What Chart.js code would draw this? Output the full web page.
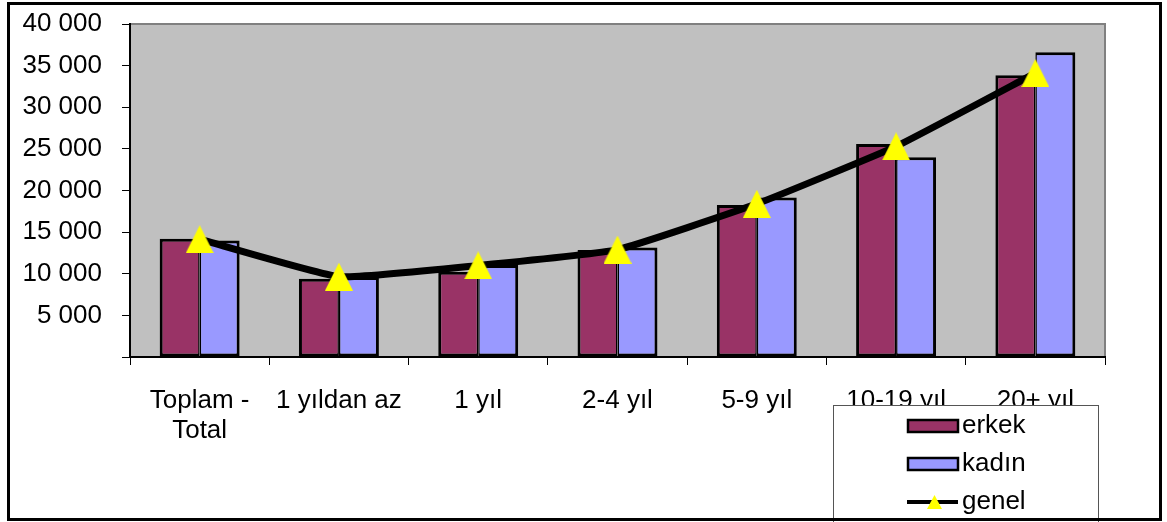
<!DOCTYPE html>
<html>
<head>
<meta charset="utf-8">
<script src="https://cdn.jsdelivr.net/npm/chart.js@4/dist/chart.umd.min.js"></script>
<style>
  html, body { margin: 0; padding: 0; background: #fff; }
  #wrap { width: 1167px; height: 522px; }
</style>
</head>
<body>
<div id="wrap"><canvas id="c" width="1167" height="522"></canvas></div>
<script>
// Categories (years of service) and the three series
const categories = [['Toplam -', 'Total'], '1 yıldan az', '1 yıl', '2-4 yıl', '5-9 yıl', '10-19 yıl', '20+ yıl'];
const erkek = [14200, 9400, 10250, 12850, 18250, 25600, 33850];
const kadin = [14000, 9600, 11050, 13150, 19150, 24000, 36600];
const genel = [14150, 9650, 11000, 12900, 18400, 25300, 34100];
const seriesLabels = ['erkek', 'kadın', 'genel'];
const yMin = 0, yMax = 40000, yStep = 5000;

const FONT = '"Liberation Sans", Arial, sans-serif';
const C_ERKEK = '#993366';
const C_KADIN = '#9999FF';
const C_GENEL_MARK = '#FFFF00';

// yellow triangle used as the point marker
function triangle(w, h, color) {
  const c = document.createElement('canvas');
  c.width = w; c.height = h;
  const g = c.getContext('2d');
  g.fillStyle = color;
  g.beginPath();
  g.moveTo(w / 2, 0);
  g.lineTo(w, h);
  g.lineTo(0, h);
  g.closePath();
  g.fill();
  return c;
}
const marker = triangle(28, 28, C_GENEL_MARK);

function fmt(v) {
  if (v === 0) return '';
  return String(v).replace(/\B(?=(\d{3})+(?!\d))/g, ' ');
}

// grey plot background with a darker grey frame on top/right
const plotBg = {
  id: 'plotBg',
  beforeDraw(chart) {
    const { ctx, chartArea: a } = chart;
    ctx.save();
    ctx.fillStyle = '#C0C0C0';
    ctx.fillRect(a.left, a.top, a.right - a.left, a.bottom - a.top);
    ctx.strokeStyle = '#808080';
    ctx.lineWidth = 2;
    ctx.beginPath();
    ctx.moveTo(a.left, a.top);
    ctx.lineTo(a.right, a.top);
    ctx.lineTo(a.right, a.bottom);
    ctx.stroke();
    ctx.restore();
  }
};

// boxed legend at the lower right, plus the outer frame
const boxLegend = {
  id: 'boxLegend',
  afterDraw(chart) {
    const ctx = chart.ctx;
    const ds = chart.data.datasets;
    const byLabel = l => ds.find(d => d.label === l);
    ctx.save();
    // legend box
    ctx.fillStyle = '#fff';
    ctx.fillRect(833, 405, 265, 130);
    ctx.strokeStyle = '#555';
    ctx.lineWidth = 1;
    ctx.strokeRect(833.5, 405.5, 265, 130);

    ctx.font = '26px ' + FONT;
    ctx.textBaseline = 'middle';
    ctx.textAlign = 'left';
    const rows = [426, 464, 502];
    // bar swatches
    [seriesLabels[0], seriesLabels[1]].forEach((lab, i) => {
      const d = byLabel(lab);
      const y = rows[i];
      ctx.fillStyle = d.backgroundColor;
      ctx.fillRect(908, y - 6, 50, 12);
      ctx.strokeStyle = '#000';
      ctx.lineWidth = 2.5;
      ctx.strokeRect(908, y - 6, 50, 12);
      ctx.fillStyle = '#000';
      ctx.fillText(d.label, 962, y);
    });
    // line swatch with marker
    const y = rows[2];
    ctx.strokeStyle = '#000';
    ctx.lineWidth = 4;
    ctx.beginPath();
    ctx.moveTo(907, y);
    ctx.lineTo(958, y);
    ctx.stroke();
    ctx.drawImage(triangle(15, 14, C_GENEL_MARK), 927, y - 7);
    ctx.fillStyle = '#000';
    ctx.fillText(byLabel(seriesLabels[2]).label, 962, y);

    // outer frame
    ctx.strokeStyle = '#000';
    ctx.lineWidth = 3;
    ctx.strokeRect(8.5, 3.5, 1152, 516);
    ctx.restore();
  }
};

Chart.defaults.font.family = FONT;
Chart.defaults.color = '#000';

const barCommon = {
  type: 'bar',
  borderColor: '#000',
  borderSkipped: false,
  categoryPercentage: 0.574,
  barPercentage: 1.0
};

new Chart(document.getElementById('c'), {
  data: {
    labels: categories,
    datasets: [
      {
        type: 'line',
        label: seriesLabels[2],
        data: genel,
        order: 0,
        borderColor: '#000',
        borderWidth: 7,
        tension: 0.12,
        pointStyle: marker,
        pointRadius: 14,
        pointHoverRadius: 14,
        clip: false
      },
      Object.assign({}, barCommon, {
        label: seriesLabels[0],
        data: erkek,
        order: 1,
        backgroundColor: C_ERKEK,
        borderWidth: { top: 3, left: 3, bottom: 3, right: 1.5 }
      }),
      Object.assign({}, barCommon, {
        label: seriesLabels[1],
        data: kadin,
        order: 2,
        backgroundColor: C_KADIN,
        borderWidth: { top: 3, left: 1.5, bottom: 3, right: 3 }
      })
    ]
  },
  options: {
    responsive: false,
    animation: false,
    devicePixelRatio: 1,
    layout: { autoPadding: false, padding: { left: 0, top: 24, right: 62, bottom: 0 } },
    plugins: {
      legend: { display: false },
      tooltip: { enabled: false }
    },
    scales: {
      x: {
        offset: true,
        grid: { offset: true, drawOnChartArea: false, tickLength: 8, color: '#000', lineWidth: 1 },
        border: { color: '#000', width: 2 },
        ticks: {
          font: { size: 26, lineHeight: 1.15 },
          color: '#000',
          padding: 21,
          maxRotation: 0,
          autoSkip: false
        },
        afterFit(scale) {
          scale.height = 165;
          scale.paddingLeft = 0;
          scale.paddingRight = 0;
        }
      },
      y: {
        min: yMin,
        max: yMax,
        grid: { drawOnChartArea: false, tickLength: 8, color: '#000', lineWidth: 1 },
        border: { color: '#000', width: 2 },
        ticks: {
          stepSize: yStep,
          font: { size: 26 },
          color: '#000',
          padding: 20,
          callback: v => fmt(v)
        },
        afterFit(scale) {
          scale.width = 130;
          scale.paddingTop = 0;
          scale.paddingBottom = 0;
        }
      }
    }
  },
  plugins: [plotBg, boxLegend]
});
</script>
</body>
</html>
